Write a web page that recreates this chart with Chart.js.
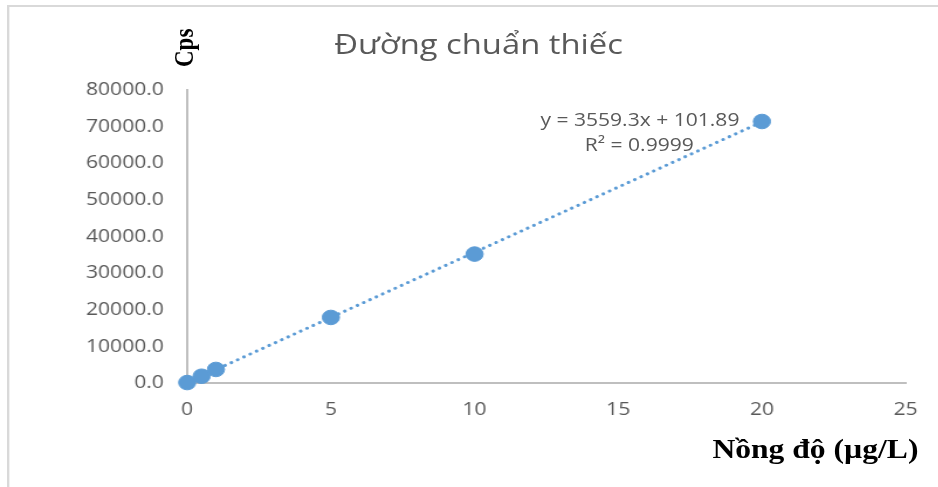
<!DOCTYPE html>
<html>
<head>
<meta charset="utf-8">
<script src="https://cdn.jsdelivr.net/npm/chart.js@4/dist/chart.umd.min.js"></script>
<style>
  body { margin: 0; background: #fff; }
  #page { width: 938px; height: 487px; overflow: hidden; position: relative; }
  /* the original figure is stretched a little in width, so draw narrower and stretch */
  #wrap { position: absolute; left: 0; top: 0; width: 802px; height: 487px;
    transform-origin: 0 0; transform: scaleX(1.17); }
  #frame { position: absolute; left: 6px; top: 5px; width: 900px; height: 500px;
    border-top: 2px solid #d9d9d9; border-left: 2px solid #d9d9d9; }
  canvas { position: absolute; left: 0; top: 0; }
  .lbl { position: absolute; white-space: nowrap; }
  #title { left: 0; width: 818px; top: 24px; text-align: center; font: 28px "Open Sans", sans-serif; color: #595959; }
  #ylab { left: 145px; top: 67px; transform-origin: 0 0; transform: rotate(-90deg);
    font: bold 23px "Liberation Serif", serif; color: #000; }
  #xlab { right: 17px; top: 434px; font: bold 27px "Liberation Serif", serif; color: #000; }
  .eq { font: 18px "Open Sans", sans-serif; color: #595959; }
</style>
</head>
<body>
<div id="page">
<div id="wrap">
  <div id="frame"></div>
  <canvas id="c" width="802" height="487"></canvas>
  <div class="lbl" id="title">Đường chuẩn thiếc</div>
  <div class="lbl" id="ylab">Cps</div>
  <div class="lbl" id="xlab">Nồng độ (µg/L)</div>
  <div class="lbl eq" style="top:107px; right:170px">y = 3559.3x + 101.89</div>
  <div class="lbl eq" style="top:132px; right:209px">R² = 0.9999</div>
</div>
</div>
<script>
// measured points (concentration, counts per second)
const concentrations = [0, 0.5, 1, 5, 10, 20];
const cps = [120, 1850, 3700, 17900, 35200, 71400];

// trendline ends, from y = 3559.3x + 101.89
const trendX = [0, 20];
const trendY = [101.89, 71287.89];

const blue = "#5b9bd5";
const axisGray = "#bfbfbf";
const tickFont = { family: "Open Sans", size: 18 };

new Chart(document.getElementById("c"), {
  type: "scatter",
  data: {
    datasets: [{
      label: "Cps",
      data: concentrations.map((x, i) => ({ x: x, y: cps[i] })),
      backgroundColor: blue,
      borderColor: blue,
      pointRadius: 7.3,
      pointHoverRadius: 7.3,
      clip: false,
      order: 1
    }, {
      label: "Trend",
      type: "line",
      data: trendX.map((x, i) => ({ x: x, y: trendY[i] })),
      borderColor: blue,
      borderWidth: 3,
      borderDash: [0.1, 6],
      borderCapStyle: "round",
      pointRadius: 0,
      fill: false,
      order: 2
    }]
  },
  options: {
    responsive: false,
    animation: false,
    layout: { padding: { left: 50, top: 90, right: 28, bottom: 64 } },
    plugins: {
      legend: { display: false },
      tooltip: { enabled: false }
    },
    scales: {
      x: {
        type: "linear",
        min: 0,
        max: 25,
        grid: { display: false, drawTicks: false },
        border: { color: axisGray, width: 2 },
        afterFit: s => { s.height = 40; },
        ticks: {
          stepSize: 5,
          padding: 16,
          color: "#595959",
          font: tickFont
        }
      },
      y: {
        min: 0,
        max: 80000,
        grid: { display: false, drawTicks: false },
        border: { color: axisGray, width: 2 },
        afterFit: s => { s.width = 110; },
        ticks: {
          stepSize: 10000,
          padding: 20,
          color: "#595959",
          font: tickFont,
          callback: v => v.toFixed(1)
        }
      }
    }
  }
});
</script>
</body>
</html>
